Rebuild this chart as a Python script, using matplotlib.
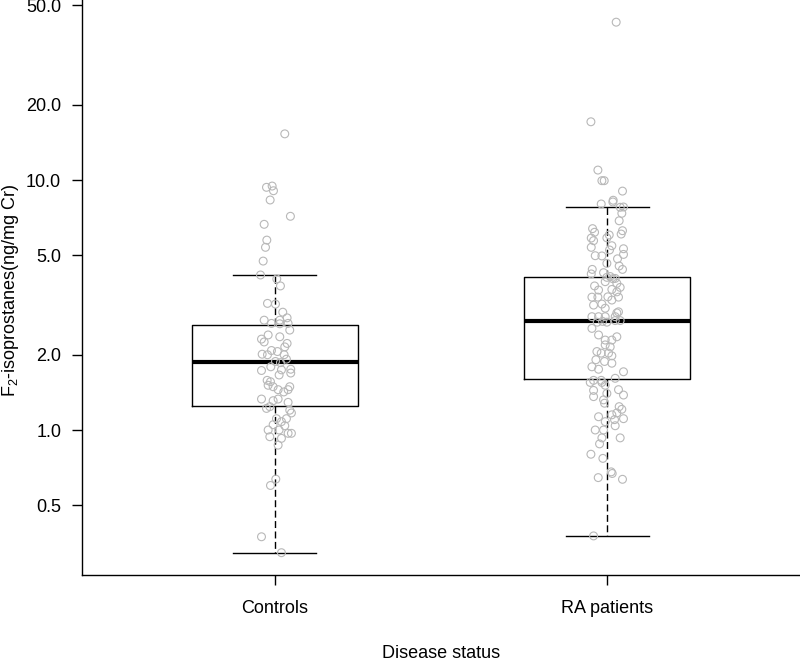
import matplotlib
matplotlib.use("Agg")
import matplotlib.pyplot as plt
import numpy as np

plt.rcParams['font.family'] = ['Liberation Sans', 'DejaVu Sans']
plt.rcParams['mathtext.fontset'] = 'custom'
plt.rcParams['mathtext.rm'] = 'Liberation Sans'
plt.rcParams['mathtext.it'] = 'Liberation Sans:italic'

categories = ["Controls", "RA patients"]

# Box statistics (ng/mg Cr)
whislo = [0.323, 0.377]
q1 = [1.25, 1.60]
med = [1.876, 2.74]
q3 = [2.63, 4.08]
whishi = [4.17, 7.82]

# Individual points: jitter offset (in category units) and value
ctrl_dx = [0.030, -0.025, -0.008, -0.004, -0.014, 0.047, -0.032, -0.024, -0.028, -0.035,
           -0.043, 0.006, 0.017, -0.022, 0.002, 0.024, 0.037, -0.032, 0.015, -0.010,
           0.015, 0.040, 0.045, -0.020, 0.015, -0.040, -0.032, 0.037, 0.030, -0.010,
           0.008, -0.038, -0.022, 0.028, 0.035, 0.002, 0.017, -0.012, -0.040, 0.020,
           0.048, 0.048, 0.013, -0.023, -0.013, -0.020, -0.005, 0.010, 0.045, 0.040,
           0.027, -0.040, -0.005, 0.010, 0.040, -0.025, -0.015, 0.045, 0.050, 0.035,
           0.005, 0.020, -0.005, 0.030, -0.020, 0.013, 0.040, 0.050, -0.015, 0.020,
           0.010, 0.003, -0.013, -0.040, 0.020]
ctrl_val = [15.3, 9.35, 9.46, 9.06, 8.32, 7.16, 6.65, 5.75, 5.38, 4.74,
            4.17, 4.02, 3.77, 3.21, 3.19, 2.96, 2.81, 2.75, 2.75, 2.67,
            2.66, 2.67, 2.51, 2.40, 2.36, 2.31, 2.25, 2.22, 2.15, 2.08,
            2.06, 2.01, 2.00, 2.00, 1.92, 1.88, 1.86, 1.79, 1.73, 1.74,
            1.75, 1.69, 1.66, 1.58, 1.56, 1.51, 1.49, 1.45, 1.49, 1.45,
            1.42, 1.33, 1.31, 1.33, 1.29, 1.22, 1.24, 1.20, 1.17, 1.11,
            1.11, 1.08, 1.05, 1.04, 1.00, 1.00, 0.97, 0.97, 0.94, 0.926,
            0.87, 0.636, 0.60, 0.374, 0.323]

ra_dx = [0.027, -0.049, -0.028, -0.016, -0.009, 0.046, 0.018, -0.018, 0.017, 0.039,
         0.049, 0.044, 0.036, -0.044, -0.038, 0.046, 0.042, -0.048, -0.001, -0.041,
         0.006, -0.048, 0.014, 0.049, 0.007, 0.049, -0.036, -0.016, 0.031, -0.001,
         0.036, 0.046, -0.045, -0.048, -0.011, 0.009, -0.001, 0.017, 0.024, 0.029,
         -0.006, -0.038, 0.039, -0.026, 0.014, 0.029, -0.046, -0.028, 0.002, 0.014,
         0.034, -0.041, -0.016, -0.006, 0.029, 0.034, -0.046, -0.026, -0.006, 0.024,
         -0.046, -0.030, -0.014, -0.001, 0.024, 0.039, -0.026, -0.006, 0.014, 0.029,
         -0.006, 0.009, -0.031, -0.018, 0.004, 0.014, -0.034, -0.008, 0.014, -0.046,
         -0.026, 0.049, 0.024, -0.018, -0.041, -0.051, -0.016, -0.006, -0.041, 0.034,
         -0.001, 0.049, -0.041, -0.011, -0.008, 0.036, 0.044, 0.029, 0.014, 0.022,
         -0.026, 0.049, -0.006, 0.024, -0.036, -0.011, 0.039, -0.016, -0.023, -0.049,
         -0.013, 0.012, 0.015, -0.027, 0.046, -0.041]
ra_val = [42.8, 17.1, 10.96, 9.94, 9.94, 9.03, 8.30, 8.02, 8.17, 7.78,
          7.80, 7.36, 6.87, 6.39, 6.18, 6.27, 6.08, 5.86, 5.87, 5.72,
          6.03, 5.38, 5.46, 5.31, 5.25, 5.04, 4.98, 4.97, 4.84, 4.64,
          4.53, 4.39, 4.39, 4.21, 4.26, 4.11, 4.08, 4.03, 4.04, 3.86,
          3.92, 3.77, 3.72, 3.63, 3.65, 3.57, 3.40, 3.40, 3.41, 3.31,
          3.40, 3.16, 3.19, 3.07, 2.94, 2.97, 2.84, 2.84, 2.84, 2.84,
          2.55, 2.70, 2.72, 2.70, 2.74, 2.74, 2.40, 2.29, 2.29, 2.36,
          2.19, 2.15, 2.06, 2.03, 2.03, 1.98, 1.91, 1.88, 1.85, 1.79,
          1.75, 1.71, 1.61, 1.58, 1.58, 1.55, 1.55, 1.51, 1.44, 1.45,
          1.40, 1.38, 1.36, 1.32, 1.28, 1.24, 1.21, 1.17, 1.15, 1.10,
          1.13, 1.11, 1.08, 1.04, 1.00, 1.00, 0.93, 0.93, 0.88, 0.80,
          0.77, 0.68, 0.67, 0.645, 0.635, 0.377]

yticks = [0.5, 1.0, 2.0, 5.0, 10.0, 20.0, 50.0]
ytick_labels = ["0.5", "1.0", "2.0", "5.0", "10.0", "20.0", "50.0"]

fig = plt.figure(figsize=(8.0, 6.62), dpi=100)
ax = fig.add_axes([82 / 800, 1 - 575 / 662, 1 - 82 / 800, 575 / 662])

positions = [1, 2]
stats = []
for i in range(2):
    stats.append(dict(whislo=whislo[i], q1=q1[i], med=med[i], q3=q3[i],
                      whishi=whishi[i], fliers=[], label=categories[i]))

ax.bxp(stats, positions=positions, widths=0.5, showfliers=False,
       boxprops=dict(color='black', linewidth=1.0),
       whiskerprops=dict(color='black', linewidth=1.0, linestyle=(0, (5, 2.5))),
       capprops=dict(color='black', linewidth=1.0),
       medianprops=dict(color='black', linewidth=3.0, solid_capstyle='butt'),
       manage_ticks=False, zorder=2)

ax.scatter(np.array(positions[0]) + np.array(ctrl_dx), ctrl_val, s=32,
           facecolors='none', edgecolors='#b8b8b8', linewidths=0.8, zorder=3)
ax.scatter(np.array(positions[1]) + np.array(ra_dx), ra_val, s=32,
           facecolors='none', edgecolors='#b8b8b8', linewidths=0.8, zorder=3)

ax.set_yscale('log')
ax.set_ylim(0.263, 52.5)
ax.set_xlim(0.42, 2.58)
ax.set_yticks(yticks)
ax.set_yticklabels(ytick_labels)
ax.minorticks_off()
ax.set_xticks(positions)
ax.set_xticklabels(categories)

for s in ['top', 'right']:
    ax.spines[s].set_visible(False)
for s in ['left', 'bottom']:
    ax.spines[s].set_linewidth(1.0)
    ax.spines[s].set_color('black')

ax.tick_params(axis='both', direction='out', length=7, width=1.0, labelsize=13, colors='black')
ax.tick_params(axis='y', pad=8)
ax.tick_params(axis='x', pad=11)

fig.text(441 / 800, 1 - 658 / 662, "Disease status", ha='center', va='baseline', fontsize=13)
fig.text(11 / 800, 1 - 290 / 662, r"F$_2$-isoprostanes(ng/mg Cr)", rotation=90,
         ha='center', va='center', fontsize=13)

fig.savefig("out.png", dpi=100)
